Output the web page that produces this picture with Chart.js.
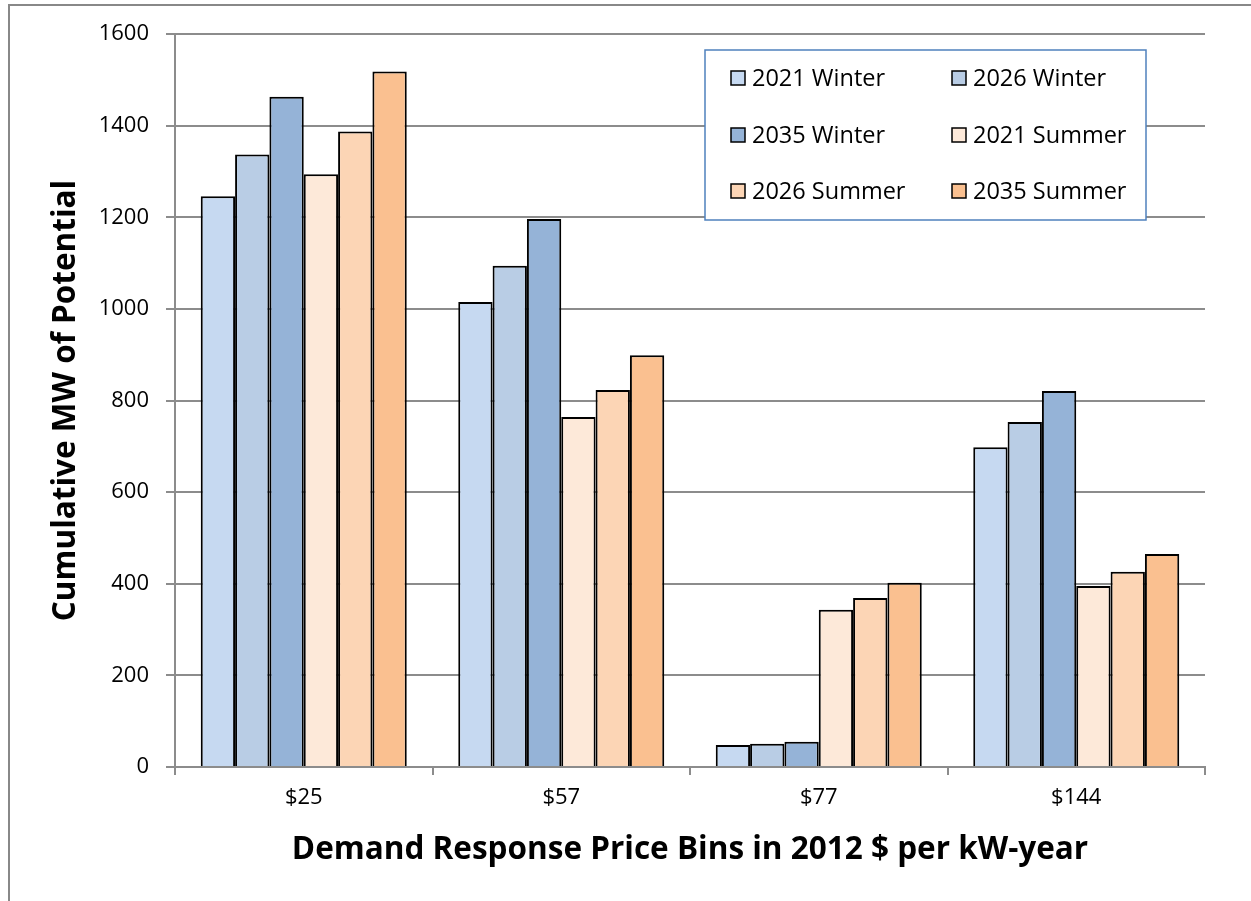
<!DOCTYPE html>
<html>
<head>
<meta charset="utf-8">
<script src="https://cdn.jsdelivr.net/npm/chart.js@4.4.1/dist/chart.umd.min.js"></script>
<style>
  html, body { margin: 0; padding: 0; background: #fff; }
  #wrap { width: 1251px; height: 901px; position: relative; }
</style>
</head>
<body>
<div id="wrap"><canvas id="drChart" width="1251" height="901"></canvas></div>
<script>
// price bins on the x axis
const priceBins = ['$25', '$57', '$77', '$144'];

// cumulative MW of potential per bin
const winter2021 = [1246, 1015, 48, 698];
const winter2026 = [1337, 1094, 51, 753];
const winter2035 = [1463, 1196, 55, 821];
const summer2021 = [1294, 764, 343, 395];
const summer2026 = [1387, 823, 369, 426];
const summer2035 = [1518, 899, 402, 465];

const seriesNames = ['2021 Winter', '2026 Winter', '2035 Winter', '2021 Summer', '2026 Summer', '2035 Summer'];
const seriesColors = ['#C6D9F1', '#B9CDE5', '#95B3D7', '#FDE9D9', '#FCD5B5', '#FAC090'];
const seriesValues = [winter2021, winter2026, winter2035, summer2021, summer2026, summer2035];

const yTicks = [0, 200, 400, 600, 800, 1000, 1200, 1400, 1600];

const FONT = "'Open Sans', 'Liberation Sans', sans-serif";
const GRID = '#8C8C8C';

// outer frame + boxed legend drawn on the canvas
const frameAndLegend = {
  id: 'frameAndLegend',
  afterDraw(chart) {
    const c = chart.ctx;
    c.save();
    c.strokeStyle = '#888888';
    c.lineWidth = 2;
    c.beginPath();
    c.moveTo(9, 901);
    c.lineTo(9, 5);
    c.lineTo(1251, 5);
    c.stroke();

    // legend box
    c.fillStyle = '#ffffff';
    c.fillRect(705, 50, 441, 170);
    c.strokeStyle = '#4F81BD';
    c.lineWidth = 1.5;
    c.strokeRect(705, 50, 441, 170);

    const cols = [731, 952];
    const rows = [78, 135, 191];
    c.font = '23.5px ' + FONT;
    c.textBaseline = 'middle';
    chart.data.datasets.forEach((ds, i) => {
      const x = cols[i % 2];
      const y = rows[Math.floor(i / 2)];
      c.fillStyle = ds.backgroundColor;
      c.fillRect(x, y - 7, 14, 14);
      c.strokeStyle = '#000';
      c.lineWidth = 1.5;
      c.strokeRect(x, y - 7, 14, 14);
      c.fillStyle = '#000';
      c.fillText(ds.label, x + 21, y + 1);
    });
    c.restore();
  }
};

const loadChart = () => {
  const ctx = document.getElementById('drChart').getContext('2d');

  new Chart(ctx, {
    type: 'bar',
    data: {
      labels: priceBins,
      datasets: seriesNames.map((name, i) => ({
        label: name,
        data: seriesValues[i],
        backgroundColor: seriesColors[i],
        borderColor: '#000000',
        borderWidth: 2,
        borderSkipped: 'bottom',
        categoryPercentage: 0.8,
        barPercentage: 1.0
      }))
    },
    options: {
      responsive: false,
      animation: false,
      layout: { padding: { left: 0, right: 46, top: 34, bottom: 0 } },
      scales: {
        x: {
          afterFit(scale) { scale.height = 134; },
          grid: {
            display: true,
            drawOnChartArea: false,
            drawTicks: true,
            tickLength: 8,
            color: GRID,
            lineWidth: 2
          },
          border: { color: GRID, width: 2 },
          ticks: {
            color: '#000',
            font: { family: FONT, size: 22 },
            padding: 10
          },
          title: {
            display: true,
            text: 'Demand Response Price Bins in 2012 $ per kW-year',
            color: '#000',
            font: { family: FONT, size: 31.5, weight: 'bold' },
            padding: { top: 0, bottom: 32 }
          }
        },
        y: {
          min: 0,
          max: 1600,
          afterFit(scale) { scale.width = 175; },
          afterBuildTicks(scale) { scale.ticks = yTicks.map(v => ({ value: v })); },
          grid: {
            color: GRID,
            lineWidth: 2,
            tickLength: 9
          },
          border: { color: GRID, width: 2 },
          ticks: {
            color: '#000',
            font: { family: FONT, size: 22 },
            padding: 17,
            callback: v => String(v)
          },
          title: {
            display: true,
            text: 'Cumulative MW of Potential',
            color: '#000',
            font: { family: FONT, size: 31.5, weight: 'bold' },
            padding: { top: 47, bottom: 0 }
          }
        }
      },
      plugins: {
        legend: { display: false },
        tooltip: { enabled: false },
        title: { display: false }
      }
    },
    plugins: [frameAndLegend]
  });
};

document.addEventListener('DOMContentLoaded', loadChart);
</script>
</body>
</html>
